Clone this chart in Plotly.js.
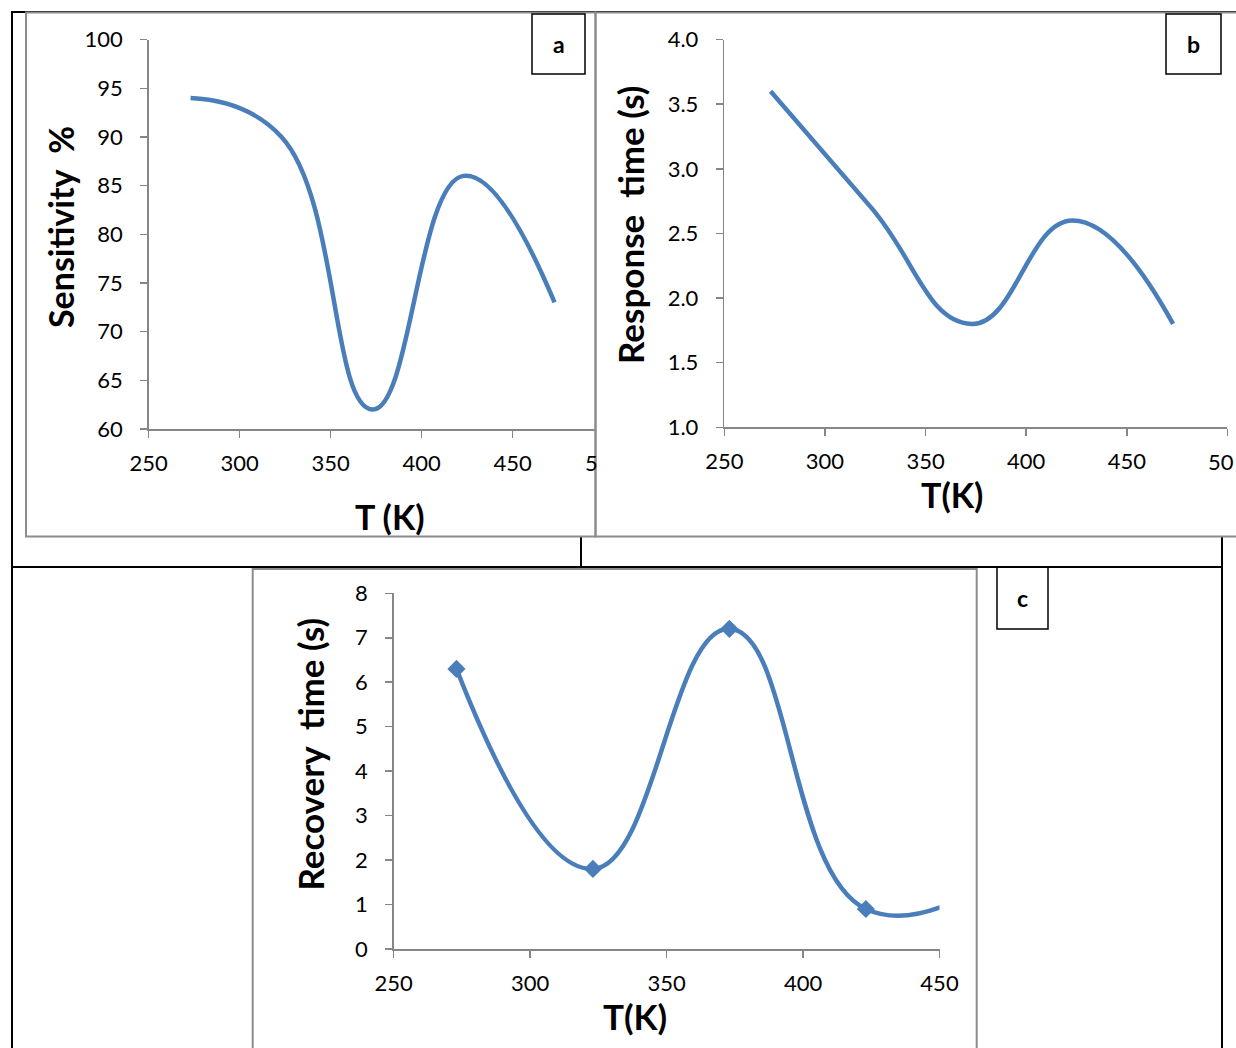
<!DOCTYPE html>
<html>
<head>
<meta charset="utf-8">
<script src="https://cdn.plot.ly/plotly-3.0.1.min.js"></script>
<style>
html,body{margin:0;padding:0;background:#fff;}
#chart{width:1236px;height:1048px;}
</style>
</head>
<body>
<div id="chart"></div>
<script>
// ---- data ----
const tempK = [273, 323, 373, 423, 473];
const sensitivity = [94, 90, 62, 86, 73];
const responseTime = [3.6, 2.7, 1.8, 2.6, 1.8];
const recoveryTime = [6.3, 1.8, 7.2, 0.9, 1.7];
const panelLabels = ['a', 'b', 'c'];
const yTitles = ['Sensitivity\u00a0 %', 'Response\u00a0 time (s)', 'Recovery\u00a0 time (s)'];
const xTitles = ['T (K)', 'T(K)', 'T(K)'];

// ---- helpers: page pixels -> paper coords ----
const W = 1236, H = 1048;
const px = x => x / W;
const py = y => 1 - y / H;

const BLUE = '#4a7ebb';
const AXIS = '#868686';
const FONT = 'Lato, "Open Sans", sans-serif';

const axisBase = {
  showline: true, linecolor: AXIS, linewidth: 1.5,
  ticks: 'outside', ticklen: 7, tickwidth: 1.5, tickcolor: AXIS,
  showgrid: false, zeroline: false, fixedrange: true,
  tickfont: {family: FONT, size: 22, color: '#000'}
};
const xBase = Object.assign({}, axisBase, {ticklabelstandoff: 7});
const yBase = Object.assign({}, axisBase, {ticklabelstandoff: 13});

const lineStyle = {shape: 'spline', smoothing: 1.3, color: BLUE, width: 4.5};

const traces = [
  {x: tempK, y: sensitivity, xaxis: 'x', yaxis: 'y', mode: 'lines', line: lineStyle, hoverinfo: 'skip'},
  {x: tempK, y: responseTime, xaxis: 'x2', yaxis: 'y2', mode: 'lines', line: lineStyle, hoverinfo: 'skip'},
  {x: tempK, y: recoveryTime, xaxis: 'x3', yaxis: 'y3', mode: 'lines+markers', line: lineStyle,
   marker: {symbol: 'diamond', size: 14, color: BLUE}, hoverinfo: 'skip'}
];

function rect(x0, y0, x1, y1, color, w) {
  return {type: 'rect', xref: 'paper', yref: 'paper', x0: px(x0), x1: px(x1), y0: py(y0), y1: py(y1),
          line: {color: color, width: w}, fillcolor: 'rgba(0,0,0,0)', layer: 'above'};
}
function seg(x0, y0, x1, y1, color, w) {
  return {type: 'line', xref: 'paper', yref: 'paper', x0: px(x0), x1: px(x1), y0: py(y0), y1: py(y1),
          line: {color: color, width: w}, layer: 'above'};
}

const shapes = [
  // black table lines
  seg(12, 12, 1236, 12, '#000', 2),
  seg(12, 11, 12, 1048, '#000', 2),
  seg(12, 567, 1222, 567, '#000', 2),
  seg(581, 537, 581, 567, '#000', 2),
  seg(1222, 537, 1222, 1048, '#000', 2),
  // grey chart frames
  rect(26, 12.5, 595.5, 536.5, '#8c8c8c', 2),
  rect(595.5, 12.5, 1245, 536.5, '#8c8c8c', 2),
  rect(252.7, 569, 976.7, 1060, '#8c8c8c', 2),
  // label boxes
  rect(532, 14, 585, 74, '#000', 1.5),
  rect(1166, 14, 1221, 74, '#000', 1.5),
  rect(997, 567, 1048, 629, '#000', 1.5)
];

function ann(x, y, text, size, extra) {
  return Object.assign({xref: 'paper', yref: 'paper', x: px(x), y: py(y), text: text, showarrow: false,
    xanchor: 'center', yanchor: 'middle',
    font: {family: FONT, size: size, color: '#000', weight: 'bold'}}, extra || {});
}
function clippedTick(x, y, text) {
  return {xref: 'paper', yref: 'paper', x: px(x), y: py(y), text: text, showarrow: false,
    xanchor: 'left', yanchor: 'middle', font: {family: FONT, size: 22, color: '#000'}};
}

const annotations = [
  ann(558.5, 44, panelLabels[0], 23),
  ann(1193.5, 44, panelLabels[1], 23),
  ann(1022.5, 598, panelLabels[2], 23),
  ann(60, 227, yTitles[0], 34, {textangle: -90}),
  ann(630, 225, yTitles[1], 35, {textangle: -90}),
  ann(309.5, 754, yTitles[2], 35, {textangle: -90}),
  ann(390, 516, xTitles[0], 34),
  ann(951.5, 495, xTitles[1], 34),
  ann(635, 1016, xTitles[2], 35),
  // tick labels cut by the frame / page edge in the reference
  clippedTick(583, 463, '5'),
  clippedTick(1206, 461, '50')
];

const layout = {
  width: W, height: H,
  margin: {l: 0, r: 0, t: 0, b: 0},
  paper_bgcolor: '#fff', plot_bgcolor: 'rgba(0,0,0,0)',
  showlegend: false,
  xaxis: Object.assign({}, xBase, {domain: [px(148.7), px(595.5)], range: [250, 495.5], tick0: 250, dtick: 50, anchor: 'y'}),
  yaxis: Object.assign({}, yBase, {domain: [py(429), py(39.6)], range: [60, 100], tick0: 60, dtick: 5, anchor: 'x'}),
  xaxis2: Object.assign({}, xBase, {domain: [px(724.3), px(1227.4)], range: [250, 500], tick0: 250, dtick: 50, anchor: 'y2'}),
  yaxis2: Object.assign({}, yBase, {domain: [py(427.3), py(39.6)], range: [1, 4], tick0: 1, dtick: 0.5, tickformat: '.1f', anchor: 'x2'}),
  xaxis3: Object.assign({}, xBase, {domain: [px(393.7), px(939.5)], range: [250, 450], tick0: 250, dtick: 50, anchor: 'y3'}),
  yaxis3: Object.assign({}, yBase, {domain: [py(949), py(593.3)], range: [0, 8], tick0: 0, dtick: 1, anchor: 'x3'}),
  shapes: shapes,
  annotations: annotations
};

Plotly.newPlot('chart', traces, layout, {staticPlot: true, displayModeBar: false});
</script>
</body>
</html>
